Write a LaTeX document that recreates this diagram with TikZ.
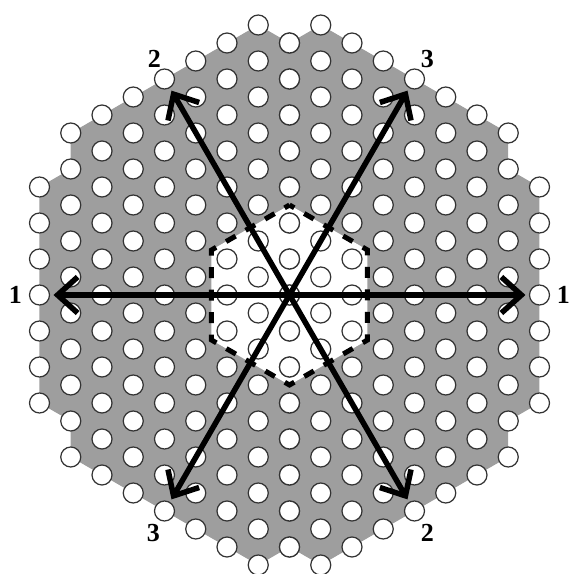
\documentclass[tikz,border=0pt]{standalone}
\usepackage{fontspec}
\setmainfont{Liberation Serif}
\usetikzlibrary{arrows.meta}

\definecolor{plateGray}{gray}{0.62}

\begin{document}
\begin{tikzpicture}[
    x=1pt, y=1pt,
    >={Straight Barb[length=20pt, width=36pt, line width=5.5pt]},
    holeStyle/.style={draw=black!80, fill=white, line width=1.2pt},
    axisArrow/.style={->, line width=5.5pt},
    axisLabel/.style={font=\bfseries\fontsize{26}{26}\selectfont, inner sep=0pt}
]

    % === DEFINITIONS & COORDINATES ===
    \def\colW{31.25}  % Horizontal distance between hole columns
    \def\rowH{36}     % Vertical distance between holes in one column
    \def\holeR{10}    % Hole radius
    \def\tipR{236}    % Arrow length from the centre

    \useasboundingbox (-289.5,-279) rectangle (279.5,295);

    \coordinate (Centre) at (0,0);
    \coordinate (TipOneLeft) at (180:\tipR);
    \coordinate (TipOneRight) at (0:\tipR);
    \coordinate (TipTwoUp) at (120:\tipR);
    \coordinate (TipTwoDown) at (-60:\tipR);
    \coordinate (TipThreeUp) at (60:\tipR);
    \coordinate (TipThreeDown) at (-120:\tipR);

    % === 1. GRAY PLATE ===
    \fill[plateGray] (-250,108) -- (-218.75,126) -- (-218.75,162) -- (-31.25,270)
        -- (0,252) -- (31.25,270) -- (218.75,162) -- (218.75,126) -- (250,108)
        -- (250,-108) -- (218.75,-126) -- (218.75,-162) -- (31.25,-270)
        -- (0,-252) -- (-31.25,-270) -- (-218.75,-162) -- (-218.75,-126)
        -- (-250,-108) -- cycle;

    % === 2. WHITE HEXAGON ===
    \fill[white] (0,90) -- (78,45) -- (78,-45) -- (0,-90) -- (-78,-45) -- (-78,45) -- cycle;

    % === 3. HOLES ===
    % Column index / half height of the column
    \foreach \c/\h in {0/252, 1/270, 2/252, 3/234, 4/216, 5/198, 6/180, 7/162, 8/108} {
        \foreach \s in {-1,1} {
            \pgfmathsetmacro{\yNext}{-\h+\rowH}
            \foreach \y in {-\h,\yNext,...,\h} {
                \draw[holeStyle] (\s*\c*\colW,\y) circle (\holeR);
            }
        }
    }

    % === 4. DASHED OUTLINE ===
    \draw[line width=5pt, dash pattern=on 11pt off 11.5pt, dash phase=5.5pt]
        (0,90) -- (78,45) -- (78,-45) -- (0,-90) -- (-78,-45) -- (-78,45) -- cycle;

    % === 5. ARROWS ===
    \foreach \tip in {TipOneLeft, TipOneRight, TipTwoUp, TipTwoDown, TipThreeUp, TipThreeDown} {
        \draw[axisArrow] (Centre) -- (\tip);
    }

    % === 6. LABELS ===
    \node[axisLabel] (LabelOneLeft) at (-274,0) {1};
    \node[axisLabel] (LabelOneRight) at (274,0) {1};
    \node[axisLabel] (LabelTwoUp) at (-135,236) {2};
    \node[axisLabel] (LabelTwoDown) at (138,-238) {2};
    \node[axisLabel] (LabelThreeUp) at (138,236) {3};
    \node[axisLabel] (LabelThreeDown) at (-136,-238) {3};

\end{tikzpicture}
\end{document}
